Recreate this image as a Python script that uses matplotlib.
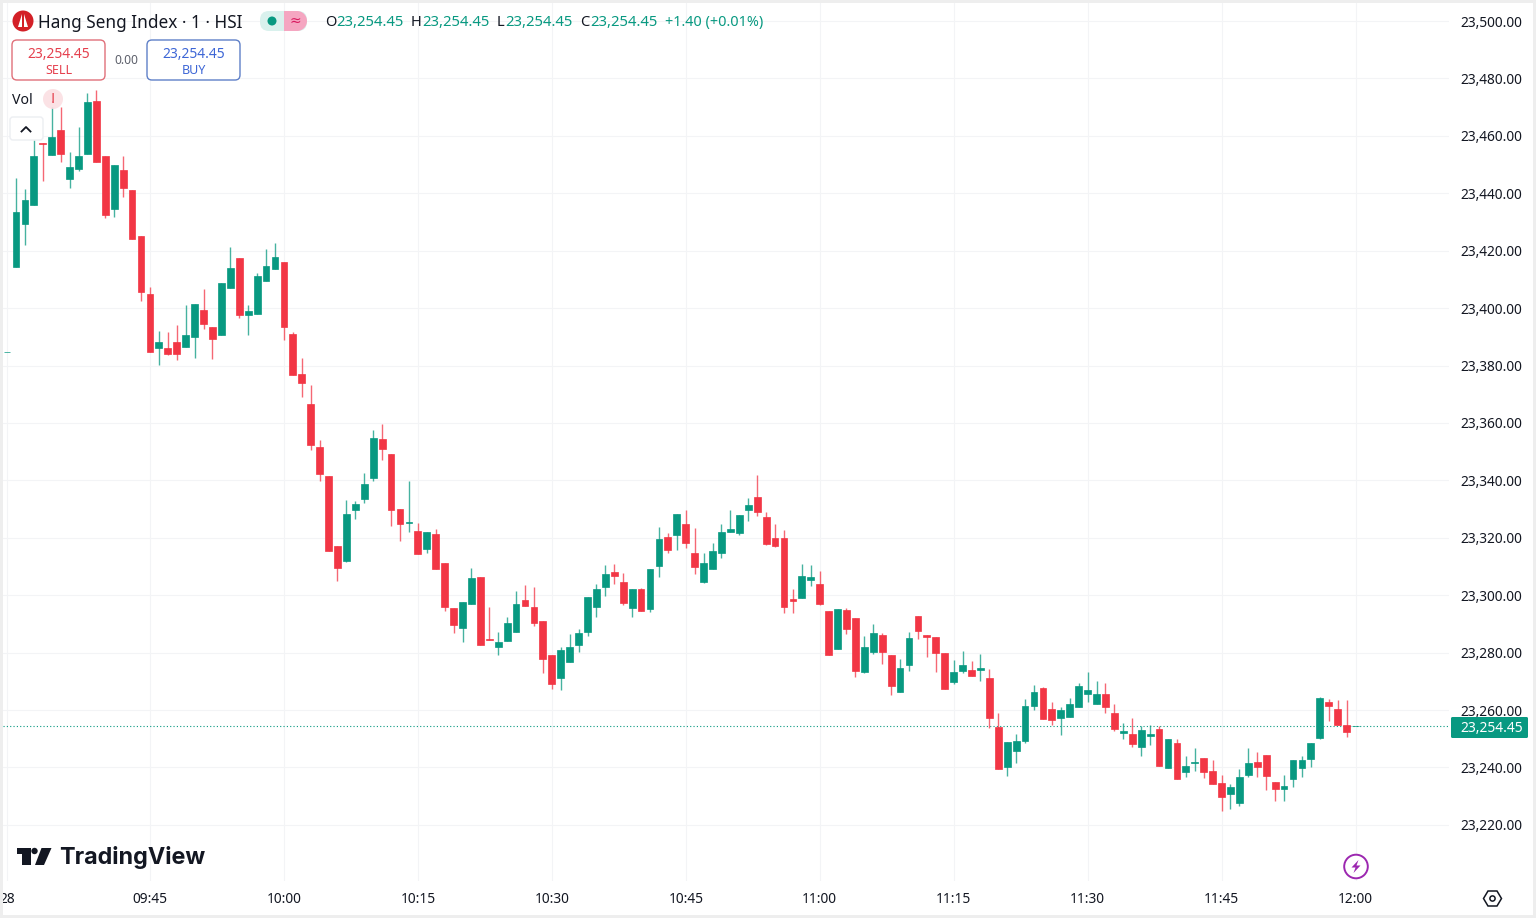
import matplotlib
matplotlib.use("Agg")
import matplotlib.pyplot as plt
from matplotlib.patches import Circle, FancyBboxPatch, Polygon, Rectangle, Wedge

plt.rcParams["font.family"] = ["Noto Sans", "DejaVu Sans"]

# one minute candles, index 0 is 09:30, index -1 is the previous session's last bar
opens = [23384.7,
    23414.3,23429.3,23435.9,23457.5,23453.3,23462.0,23445.0,23448.4,23453.7,23472.1,
    23453.0,23434.5,23448.1,23441.1,23425.1,23404.9,23386.1,23386.1,23388.2,23386.4,
    23389.9,23399.3,23393.4,23390.6,23407.0,23417.4,23397.6,23397.9,23409.4,23413.6,
    23416.0,23391.0,23377.0,23366.6,23351.6,23341.5,23317.1,23311.9,23329.7,23333.5,
    23340.8,23354.4,23349.2,23330.0,23325.1,23322.4,23316.1,23321.3,23311.2,23295.5,
    23288.6,23296.9,23306.3,23284.7,23282.0,23284.0,23287.2,23298.3,23295.9,23291.0,
    23279.2,23271.2,23276.7,23282.6,23287.2,23295.9,23302.8,23308.1,23304.6,23295.5,
    23302.2,23295.2,23310.2,23320.3,23321.0,23324.8,23314.7,23304.6,23309.1,23314.7,
    23322.0,23321.7,23329.7,23334.2,23327.2,23319.9,23319.9,23298.7,23299.0,23305.3,
    23303.9,23294.5,23281.3,23294.8,23292.1,23273.2,23280.2,23286.1,23279.2,23266.3,
    23275.7,23292.7,23286.1,23285.4,23279.9,23269.8,23273.6,23273.9,23273.9,23271.2,
    23254.1,23240.2,23245.7,23249.2,23261.4,23267.7,23260.3,23257.2,23257.6,23261.1,
    23265.6,23262.1,23265.6,23259.0,23252.0,23251.6,23247.1,23250.9,23253.4,23239.8,
    23248.5,23238.4,23241.5,23243.3,23238.8,23234.6,23230.7,23227.6,23237.4,23241.9,
    23244.3,23234.9,23232.5,23236.0,23239.8,23242.9,23250.2,23262.8,23260.3,23254.8,
    23254.45]
highs = [23384.7,
    23445.3,23441.5,23458.5,23457.5,23470.0,23470.0,23454.4,23463.1,23474.9,23476.0,
    23453.0,23449.8,23453.0,23441.1,23425.1,23407.3,23392.0,23391.7,23394.1,23401.1,
    23401.4,23406.6,23393.4,23408.7,23421.3,23417.4,23401.1,23412.2,23420.6,23422.7,
    23416.0,23391.7,23382.6,23373.2,23354.0,23341.5,23317.1,23333.2,23332.8,23342.6,
    23357.5,23359.6,23349.2,23330.0,23339.8,23325.1,23322.0,23323.1,23311.2,23295.5,
    23297.6,23309.5,23306.3,23295.9,23287.2,23292.4,23301.5,23303.5,23302.8,23291.0,
    23279.2,23282.0,23286.5,23288.2,23299.4,23303.9,23310.5,23310.9,23307.7,23302.2,
    23302.5,23309.1,23323.7,23321.7,23328.3,23329.7,23323.4,23314.7,23318.2,23324.8,
    23329.7,23327.9,23333.9,23341.9,23329.0,23324.8,23322.7,23302.2,23310.9,23310.5,
    23308.4,23294.5,23295.2,23295.5,23292.1,23285.8,23290.0,23286.8,23279.2,23277.8,
    23287.2,23292.7,23286.1,23285.4,23279.9,23277.4,23280.6,23277.1,23279.5,23274.3,
    23259.0,23248.9,23251.6,23263.8,23268.7,23268.0,23262.8,23261.1,23264.2,23269.4,
    23273.2,23270.1,23269.4,23262.1,23255.5,23257.2,23254.4,23254.8,23254.4,23249.9,
    23249.9,23244.0,23246.8,23243.3,23242.6,23237.4,23234.2,23239.5,23246.8,23245.4,
    23244.3,23234.9,23237.4,23242.6,23244.0,23248.5,23264.5,23263.8,23263.5,23263.5,
    23254.45]
lows = [23384.7,
    23414.3,23422.0,23435.9,23444.3,23453.3,23450.9,23441.8,23447.7,23453.7,23450.9,
    23431.4,23431.7,23438.7,23424.1,23402.5,23384.7,23380.2,23383.6,23381.9,23386.4,
    23382.6,23392.7,23382.3,23390.6,23407.0,23396.5,23390.6,23397.9,23409.4,23413.6,
    23388.9,23376.7,23369.0,23350.6,23339.8,23315.4,23304.9,23311.6,23326.5,23332.1,
    23339.8,23347.1,23324.1,23318.9,23322.0,23314.3,23314.7,23309.1,23294.5,23286.8,
    23283.7,23296.9,23282.6,23284.4,23279.2,23284.0,23287.2,23296.2,23289.3,23272.9,
    23267.3,23267.0,23276.7,23280.2,23285.8,23292.4,23299.7,23303.9,23296.6,23292.4,
    23294.5,23294.1,23306.3,23314.7,23315.7,23316.4,23307.4,23304.2,23309.1,23313.0,
    23322.0,23321.0,23325.8,23327.6,23317.5,23316.8,23293.8,23293.8,23299.0,23303.2,
    23296.6,23279.2,23281.3,23286.5,23271.5,23272.9,23279.5,23276.0,23265.2,23266.3,
    23273.6,23284.7,23278.5,23273.2,23267.3,23269.1,23272.9,23271.8,23270.1,23253.7,
    23239.5,23237.0,23241.5,23248.5,23260.0,23256.9,23254.8,23251.3,23257.6,23261.1,
    23262.8,23262.1,23259.0,23252.7,23249.9,23247.1,23244.0,23247.8,23240.5,23239.8,
    23236.0,23236.7,23238.8,23236.3,23234.2,23224.8,23225.5,23226.6,23236.7,23236.7,
    23232.1,23228.3,23228.3,23233.2,23236.7,23240.2,23249.9,23256.2,23254.8,23250.6,
    23254.45]
closes = [23384.7,
    23433.5,23437.8,23453.0,23457.1,23459.6,23453.7,23449.1,23453.0,23471.8,23450.9,
    23432.4,23449.8,23441.8,23424.1,23405.6,23384.7,23388.2,23384.0,23384.0,23390.6,
    23401.4,23394.5,23389.2,23408.7,23414.0,23397.6,23399.0,23411.2,23414.6,23417.8,
    23393.4,23376.7,23373.9,23352.3,23342.2,23315.4,23309.5,23328.3,23331.8,23338.7,
    23354.7,23350.9,23329.7,23324.8,23325.5,23314.3,23322.0,23309.1,23295.9,23289.6,
    23297.6,23306.0,23282.6,23284.4,23283.7,23290.3,23296.9,23296.2,23290.3,23277.8,
    23269.1,23280.9,23282.0,23286.8,23299.4,23302.2,23307.4,23306.7,23297.3,23302.2,
    23294.5,23309.1,23319.6,23315.7,23328.3,23318.2,23309.8,23311.2,23315.4,23322.0,
    23323.1,23327.9,23331.4,23329.0,23317.8,23317.1,23295.9,23298.0,23306.7,23306.3,
    23296.9,23279.2,23295.2,23288.2,23273.6,23282.0,23286.8,23280.2,23268.4,23274.6,
    23285.1,23287.5,23285.4,23279.9,23267.3,23273.2,23275.7,23271.8,23274.6,23257.2,
    23239.5,23248.9,23249.2,23261.4,23266.3,23256.9,23256.5,23260.0,23262.1,23268.4,
    23267.0,23265.6,23261.1,23253.4,23252.7,23248.2,23253.0,23251.6,23240.5,23249.9,
    23236.0,23240.5,23241.9,23238.4,23234.2,23229.7,23233.2,23236.7,23241.5,23240.2,
    23237.0,23232.5,23233.5,23242.6,23242.6,23248.5,23264.2,23261.4,23254.8,23252.3,
    23254.45]

last_price = 23254.45
price_ticks = [23220, 23240, 23260, 23280, 23300, 23320, 23340, 23360, 23380, 23400,
               23420, 23440, 23460, 23480, 23500]
time_ticks = [-1, 15, 30, 45, 60, 75, 90, 105, 120, 135, 150]
time_labels = ["28", "09:45", "10:00", "10:15", "10:30", "10:45", "11:00", "11:15",
               "11:30", "11:45", "12:00"]

green = "#089981"
red = "#f23645"
ink = "#131722"
W, H = 1536, 918

fig = plt.figure(figsize=(W / 100, H / 100), dpi=100, facecolor="white")

# chart pane, px 3..1449 across and 3..881 down
ax = fig.add_axes([3 / W, 1 - 881 / H, 1446 / W, 878 / H])
ax.set_xlim(-1.456, 160.47)
ax.set_ylim(23200.46, 23506.27)
for s in ax.spines.values():
    s.set_visible(False)
ax.grid(True, color="#f3f4f6", linewidth=0.8)
ax.set_axisbelow(True)
ax.yaxis.tick_right()
ax.set_yticks(price_ticks)
ax.set_yticklabels([f"{p:,.2f}" for p in price_ticks], fontsize=9.9, color=ink, ha="left")
ax.set_xticks(time_ticks)
ax.set_xticklabels(time_labels, fontsize=9.9, color=ink)
ax.tick_params(axis="y", length=0, pad=8.2)
ax.tick_params(axis="x", length=0, pad=8.2)

xs = list(range(-1, len(opens) - 1))
for x, o, h, l, c in zip(xs, opens, highs, lows, closes):
    col = green if c >= o else red
    ax.vlines(x, l, h, color=col, linewidth=1.0, alpha=0.75, zorder=2)
    ax.bar(x, abs(c - o), bottom=min(o, c), width=0.76, color=col, edgecolor=col,
           linewidth=0.5, zorder=3)

ax.axhline(last_price, color=green, linewidth=0.8, linestyle=(0, (1, 2)), zorder=1)

# interface furniture, drawn in pixel coordinates on a see-through overlay
ui = fig.add_axes([0, 0, 1, 1], zorder=5)
ui.set_xlim(0, W)
ui.set_ylim(H, 0)
ui.axis("off")
ui.patch.set_alpha(0)


def box(x0, y0, x1, y1, edge, face="white", r=5, lw=1.0):
    ui.add_patch(FancyBboxPatch((x0 + r, y0 + r), x1 - x0 - 2 * r, y1 - y0 - 2 * r,
                                boxstyle=f"round,pad={r},rounding_size={r}",
                                edgecolor=edge, facecolor=face, linewidth=lw))


def label(x, y, s, color=ink, size=9.9, ha="left", **kw):
    # Noto sits a little high when centred, so nudge it down
    ui.text(x, y + 1.5, s, color=color, fontsize=size, ha=ha, va="center", **kw)


# outer frame of the screenshot
ui.add_patch(Rectangle((0, 0), 2.5, H, color="#eeeeee", lw=0))
ui.add_patch(Rectangle((0, 0), W, 2.5, color="#eeeeee", lw=0))
ui.add_patch(Rectangle((0, 915), W, 3, color="#eeeeee", lw=0))
ui.add_patch(Rectangle((1533, 0), 3, H, color="#eeeeee", lw=0))

# symbol logo and title
ui.add_patch(Circle((23, 21), 10.5, color="#d32027", lw=0))
ui.add_patch(Polygon([(22, 14), (22, 27), (18, 27)], color="white", lw=0))
ui.add_patch(Polygon([(24, 14), (24, 27), (28, 27)], color="white", lw=0))
label(38.5, 21, "Hang Seng Index · 1 · HSI", size=12.4)

# market status pill
box(260, 11, 307, 31, "#d9f1ed", face="#d9f1ed", r=9, lw=0)
ui.add_patch(Wedge((297, 21), 10, -90, 90, color="#f5a6c1", lw=0))
ui.add_patch(Rectangle((284, 11), 13, 20, color="#f5a6c1", lw=0))
ui.add_patch(Circle((272, 21), 4.5, color=green, lw=0))
label(295, 20, "≈", color="#d81b60", size=10, ha="center")

# OHLC readout
for x_key, key, x_val in [(325, "O", 336.5), (411, "H", 422.5), (497, "L", 505.5), (580, "C", 590.5)]:
    label(x_key, 21, key, size=10.6)
    label(x_val, 21, f"{last_price:,.2f}", color=green, size=10.7)
label(665, 21, "+1.40 (+0.01%)", color=green, size=10.4)

# sell and buy buttons
box(12, 40, 105, 80, "#e0707a")
label(58.5, 53, f"{last_price:,.2f}", color="#e5404e", size=10, ha="center", weight="bold")
label(58.5, 69, "SELL", color="#e5404e", size=9, ha="center")
label(126, 59, "0.00", color="#5d606b", size=8.6, ha="center")
box(147, 40, 240, 80, "#5f80c8")
label(193.5, 53, f"{last_price:,.2f}", color="#3d66d6", size=10, ha="center", weight="bold")
label(193.5, 69, "BUY", color="#3d66d6", size=9, ha="center")

# volume legend
label(12, 99, "Vol", size=10.2)
ui.add_patch(Circle((53, 99), 10, color="#fbdde1", alpha=0.85, lw=0))
label(53, 98, "!", color="#e5404e", size=11, ha="center", weight="bold")
box(10, 117, 43, 140, "#eceef2", r=3)
ui.plot([21.5, 26, 30.5], [131.5, 127, 131.5], color=ink, lw=1.3)

# last price tag
box(1451, 717, 1528, 738, green, face=green, r=1.5, lw=0)
label(1491.5, 727, f"{last_price:,.2f}", color="white", size=10, ha="center", weight="bold")

# TradingView mark
ui.add_patch(Polygon([(16.5, 848), (30.5, 848), (30.5, 865), (21.5, 865), (21.5, 854), (16.5, 854)],
                     color=ink, lw=0))
ui.add_patch(Circle((34.5, 851), 3.2, color=ink, lw=0))
ui.add_patch(Polygon([(41.5, 848), (51.5, 848), (44, 865), (35, 865)], color=ink, lw=0))
label(59.5, 856, "TradingView", size=16.8, family="Inter", weight="bold")

# bolt icon
ui.add_patch(Circle((1356, 866.5), 11.8, facecolor="white", edgecolor="#9c27b0", lw=1.4))
ui.add_patch(Polygon([(1358.5, 860), (1351.5, 867.5), (1355.5, 867.5), (1353.5, 873),
                      (1360.5, 865.5), (1356.5, 865.5)], color="#9c27b0", lw=0))

# settings icon
ui.add_patch(Polygon([(1483.5, 898.5), (1488, 891), (1497, 891), (1501.5, 898.5),
                      (1497, 906), (1488, 906)], fill=False, edgecolor=ink, lw=1.1))
ui.add_patch(Circle((1492.5, 898.5), 2.6, fill=False, edgecolor=ink, lw=1.1))

fig.savefig("out.png", dpi=100)
